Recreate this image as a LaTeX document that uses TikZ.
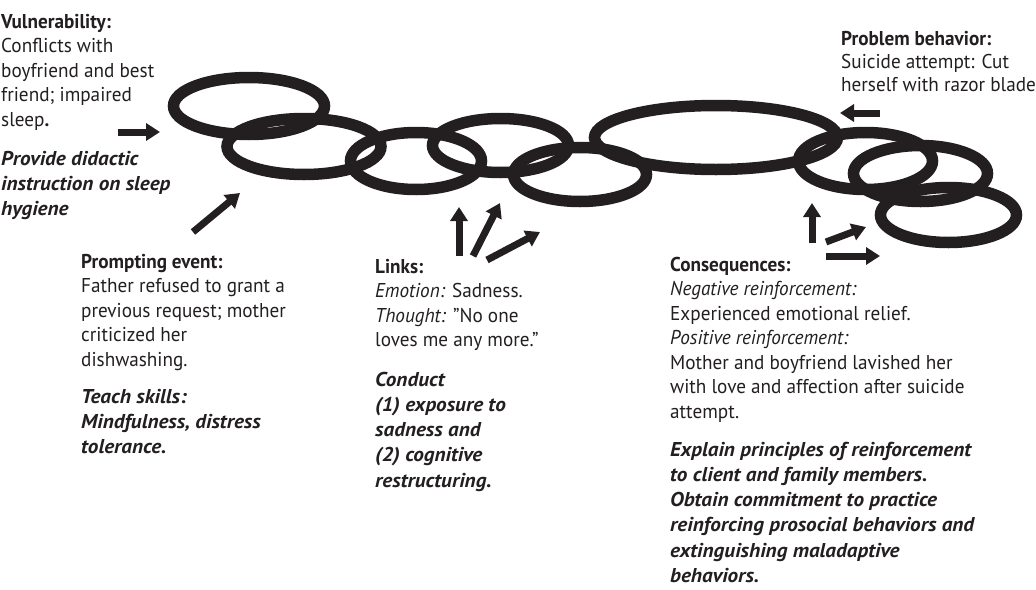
\documentclass[tikz,border=0pt]{standalone}
\usepackage{fontspec}
\setmainfont{PT Sans}[FakeStretch=0.96]
\newfontfamily\tipfamily{PT Sans}[FakeStretch=1.06]
\usetikzlibrary{arrows.meta}
\definecolor{ink}{HTML}{231F20}
\begin{document}
\begin{tikzpicture}[x=1pt,y=-1pt,
  chainlink/.style={draw=ink, line width=11.5pt},
  blockarrow/.style={draw=ink, line width=7pt, -{Triangle[length=14pt,width=17pt]}},
  txt/.style={anchor=base west, inner sep=0pt, text=ink,
    font=\fontsize{20}{24.5}\selectfont},
  tip/.style={txt, font=\fontsize{20}{25.3}\selectfont\tipfamily\bfseries\itshape},
]
\useasboundingbox (0,0) rectangle (1036,589);

% the chain of links
\draw[chainlink] (249,106)   ellipse [x radius=75.5, y radius=28.5];
\draw[chainlink] (304,146.5) ellipse [x radius=77, y radius=28];
\draw[chainlink] (416,161)   ellipse [x radius=65.5, y radius=28.5];
\draw[chainlink] (500.5,145.5) ellipse [x radius=68, y radius=27];
\draw[chainlink] (580,174.5) ellipse [x radius=66.5, y radius=27];
\draw[chainlink] (716,137.5) ellipse [x radius=121.5, y radius=32];
\draw[chainlink] (865.5,161) ellipse [x radius=67, y radius=28.5];
\draw[chainlink] (920.5,173.5) ellipse [x radius=67, y radius=28];
\draw[chainlink] (948.5,215) ellipse [x radius=68, y radius=27.5];

% text blocks
\node[txt] (vuln) at (1,28) {\begin{tabular}[t]{@{}l@{}}
  \textbf{Vulnerability:}\\
  Conflicts with\\
  boyfriend and best\\
  friend; impaired\\
  sleep\textbf{.}\end{tabular}};
\node[tip] (vulntx) at (1,165) {\begin{tabular}[t]{@{}l@{}}
  Provide didactic\\
  instruction on sleep\\
  hygiene\end{tabular}};

\node[txt] (prompt) at (81,268) {\begin{tabular}[t]{@{}l@{}}
  \textbf{Prompting event:}\\
  Father refused to grant a\\
  previous request; mother\\
  criticized her\\
  dishwashing.\end{tabular}};
\node[tip] (prompttx) at (81,403) {\begin{tabular}[t]{@{}l@{}}
  Teach skills:\\
  Mindfulness, distress\\
  tolerance.\end{tabular}};

\node[txt] (links) at (375,273) {\begin{tabular}[t]{@{}l@{}}
  \textbf{Links:}\\
  \textit{Emotion:} Sadness.\\
  \textit{Thought:} "No one\\
  loves me any more."\end{tabular}};
\node[tip] (linkstx) at (375,386) {\begin{tabular}[t]{@{}l@{}}
  Conduct\\
  (1) exposure to\\
  sadness and\\
  (2) cognitive\\
  restructuring.\end{tabular}};

\node[txt, font=\fontsize{20}{23.5}\selectfont] (problem) at (841,45) {\begin{tabular}[t]{@{}l@{}}
  \textbf{Problem behavior:}\\
  Suicide attempt: Cut\\
  herself with razor blade\end{tabular}};

\node[txt] (cons) at (670,271) {\begin{tabular}[t]{@{}l@{}}
  \textbf{Consequences:}\\
  \textit{Negative reinforcement:}\\
  Experienced emotional relief.\\
  \textit{Positive reinforcement:}\\
  Mother and boyfriend lavished her\\
  with love and affection after suicide\\
  attempt.\end{tabular}};
\node[tip] (constx) at (670,456) {\begin{tabular}[t]{@{}l@{}}
  Explain principles of reinforcement\\
  to client and family members.\\
  Obtain commitment to practice\\
  reinforcing prosocial behaviors and\\
  extinguishing maladaptive\\
  behaviors.\end{tabular}};

% arrow end points
\coordinate (vulnA) at (118,132);   \coordinate (vulnB) at (160,132);
\coordinate (promptA) at (193,232); \coordinate (promptB) at (240,193);
\coordinate (linkA1) at (459,256);  \coordinate (linkB1) at (459,207);
\coordinate (linkA2) at (473,256);  \coordinate (linkB2) at (500,203);
\coordinate (linkA3) at (487,260);  \coordinate (linkB3) at (540,232);
\coordinate (probA) at (880,113);   \coordinate (probB) at (840,113);
\coordinate (consA1) at (812,243);  \coordinate (consB1) at (812,203);
\coordinate (consA2) at (826,242);  \coordinate (consB2) at (866,227);
\coordinate (consA3) at (826,256);  \coordinate (consB3) at (880,256);

\draw[blockarrow] (vulnA) -- (vulnB);
\draw[blockarrow] (promptA) -- (promptB);
\draw[blockarrow] (linkA1) -- (linkB1);
\draw[blockarrow] (linkA2) -- (linkB2);
\draw[blockarrow] (linkA3) -- (linkB3);
\draw[blockarrow] (probA) -- (probB);
\draw[blockarrow] (consA1) -- (consB1);
\draw[blockarrow] (consA2) -- (consB2);
\draw[blockarrow] (consA3) -- (consB3);
\end{tikzpicture}
\end{document}
